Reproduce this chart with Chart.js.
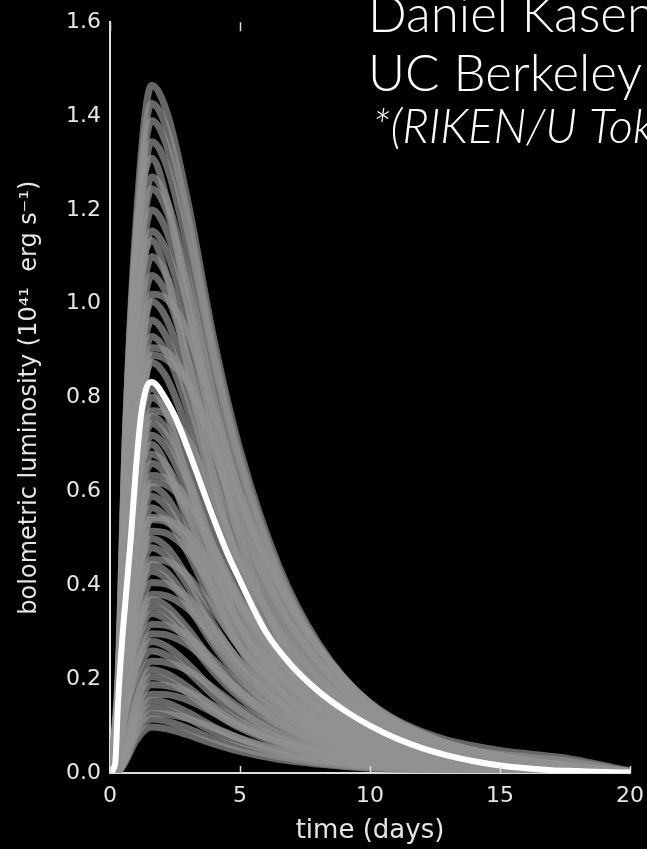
<!DOCTYPE html>
<html>
<head>
<meta charset="utf-8">
<script src="https://cdn.jsdelivr.net/npm/chart.js@4.4.1/dist/chart.umd.min.js"></script>
<style>
  html, body { margin: 0; padding: 0; background: #000; overflow: hidden; }
  canvas { display: block; }
</style>
</head>
<body>
<canvas id="lightCurves" width="647" height="849"></canvas>
<script>
// time grid shared by the grey model runs (days)
const days = [0, 0.3, 0.6, 1.0, 1.6, 2.2, 3, 4, 5, 6.5, 8, 10, 12.5, 15, 17.5, 20];

// grey model light curves, 10^41 erg/s, one row per run
const grayRuns = [
  [0, 0.176, 0.733, 1.172, 1.465, 1.406, 1.216, 0.923, 0.689, 0.440, 0.278, 0.147, 0.073, 0.037, 0.018, 0.003],
  [0, 0.171, 0.714, 1.142, 1.427, 1.370, 1.184, 0.899, 0.671, 0.428, 0.271, 0.143, 0.071, 0.036, 0.017, 0.003],
  [0, 0.167, 0.695, 1.112, 1.390, 1.334, 1.154, 0.876, 0.653, 0.417, 0.264, 0.139, 0.070, 0.035, 0.017, 0.003],
  [0, 0.161, 0.673, 1.076, 1.345, 1.291, 1.116, 0.847, 0.632, 0.404, 0.256, 0.135, 0.067, 0.034, 0.016, 0.003],
  [0, 0.197, 0.734, 1.127, 1.310, 1.218, 0.996, 0.721, 0.498, 0.288, 0.170, 0.079, 0.033, 0.013, 0.005, 0],
  [0, 0.152, 0.635, 1.016, 1.270, 1.219, 1.054, 0.800, 0.597, 0.381, 0.241, 0.127, 0.064, 0.032, 0.015, 0.003],
  [0, 0.149, 0.623, 0.996, 1.245, 1.195, 1.033, 0.784, 0.585, 0.374, 0.237, 0.125, 0.062, 0.031, 0.015, 0.002],
  [0, 0.144, 0.600, 0.960, 1.200, 1.152, 0.996, 0.756, 0.564, 0.360, 0.228, 0.120, 0.060, 0.030, 0.014, 0.002],
  [0, 0.139, 0.578, 0.924, 1.155, 1.109, 0.959, 0.728, 0.543, 0.347, 0.219, 0.116, 0.058, 0.029, 0.014, 0.002],
  [0, 0.170, 0.636, 0.976, 1.135, 1.056, 0.863, 0.624, 0.431, 0.250, 0.148, 0.068, 0.028, 0.011, 0.005, 0],
  [0, 0.132, 0.550, 0.880, 1.100, 1.056, 0.913, 0.693, 0.517, 0.330, 0.209, 0.110, 0.055, 0.028, 0.013, 0.002],
  [0, 0.127, 0.530, 0.848, 1.060, 1.018, 0.880, 0.668, 0.498, 0.318, 0.201, 0.106, 0.053, 0.027, 0.013, 0.002],
  [0, 0.103, 0.464, 0.773, 1.020, 1.009, 0.937, 0.773, 0.597, 0.402, 0.268, 0.149, 0.072, 0.036, 0.016, 0.003],
  [0, 0.121, 0.503, 0.804, 1.005, 0.965, 0.834, 0.633, 0.472, 0.302, 0.191, 0.101, 0.050, 0.025, 0.012, 0.002],
  [0, 0.116, 0.483, 0.772, 0.965, 0.926, 0.801, 0.608, 0.454, 0.290, 0.183, 0.097, 0.048, 0.024, 0.012, 0.002],
  [0, 0.112, 0.465, 0.744, 0.930, 0.893, 0.772, 0.586, 0.437, 0.279, 0.177, 0.093, 0.047, 0.023, 0.011, 0.002],
  [0, 0.092, 0.412, 0.686, 0.906, 0.897, 0.833, 0.686, 0.531, 0.357, 0.238, 0.133, 0.064, 0.032, 0.015, 0.003],
  [0, 0.080, 0.380, 0.640, 0.890, 0.880, 0.830, 0.710, 0.575, 0.400, 0.270, 0.150, 0.078, 0.048, 0.032, 0.004],
  [0, 0.105, 0.438, 0.700, 0.875, 0.840, 0.726, 0.551, 0.411, 0.263, 0.166, 0.088, 0.044, 0.022, 0.011, 0.002],
  [0, 0.123, 0.459, 0.705, 0.820, 0.763, 0.623, 0.451, 0.312, 0.180, 0.107, 0.049, 0.021, 0.008, 0.003, 0],
  [0, 0.096, 0.400, 0.640, 0.800, 0.768, 0.664, 0.504, 0.376, 0.240, 0.152, 0.080, 0.040, 0.020, 0.010, 0.002],
  [0, 0.078, 0.351, 0.585, 0.772, 0.764, 0.710, 0.585, 0.452, 0.304, 0.203, 0.113, 0.055, 0.027, 0.012, 0.002],
  [0, 0.091, 0.380, 0.608, 0.760, 0.730, 0.631, 0.479, 0.357, 0.228, 0.144, 0.076, 0.038, 0.019, 0.009, 0.002],
  [0, 0.089, 0.373, 0.596, 0.745, 0.715, 0.618, 0.469, 0.350, 0.224, 0.142, 0.075, 0.037, 0.019, 0.009, 0.001],
  [0, 0.086, 0.360, 0.576, 0.720, 0.691, 0.598, 0.454, 0.338, 0.216, 0.137, 0.072, 0.036, 0.018, 0.009, 0.001],
  [0, 0.105, 0.392, 0.602, 0.700, 0.651, 0.532, 0.385, 0.266, 0.154, 0.091, 0.042, 0.018, 0.007, 0.003, 0],
  [0, 0.082, 0.340, 0.544, 0.680, 0.653, 0.564, 0.428, 0.320, 0.204, 0.129, 0.068, 0.034, 0.017, 0.008, 0.001],
  [0, 0.079, 0.330, 0.528, 0.660, 0.634, 0.548, 0.416, 0.310, 0.198, 0.125, 0.066, 0.033, 0.017, 0.008, 0.001],
  [0, 0.064, 0.288, 0.480, 0.634, 0.627, 0.582, 0.480, 0.371, 0.250, 0.166, 0.093, 0.045, 0.022, 0.010, 0.002],
  [0, 0.063, 0.281, 0.469, 0.619, 0.613, 0.569, 0.469, 0.363, 0.244, 0.163, 0.091, 0.044, 0.022, 0.010, 0.002],
  [0, 0.073, 0.305, 0.488, 0.610, 0.586, 0.506, 0.384, 0.287, 0.183, 0.116, 0.061, 0.031, 0.015, 0.007, 0.001],
  [0, 0.071, 0.295, 0.472, 0.590, 0.566, 0.490, 0.372, 0.277, 0.177, 0.112, 0.059, 0.030, 0.015, 0.007, 0.001],
  [0, 0.068, 0.283, 0.452, 0.565, 0.542, 0.469, 0.356, 0.266, 0.170, 0.107, 0.057, 0.028, 0.014, 0.007, 0.001],
  [0, 0.050, 0.230, 0.390, 0.545, 0.540, 0.510, 0.435, 0.358, 0.260, 0.180, 0.110, 0.062, 0.040, 0.026, 0.003],
  [0, 0.055, 0.245, 0.409, 0.540, 0.534, 0.496, 0.409, 0.316, 0.213, 0.142, 0.079, 0.038, 0.019, 0.009, 0.002],
  [0, 0.052, 0.234, 0.390, 0.515, 0.510, 0.473, 0.390, 0.302, 0.203, 0.135, 0.075, 0.036, 0.018, 0.008, 0.002],
  [0, 0.060, 0.250, 0.400, 0.500, 0.480, 0.415, 0.315, 0.235, 0.150, 0.095, 0.050, 0.025, 0.013, 0.006, 0.001],
  [0, 0.058, 0.240, 0.384, 0.480, 0.461, 0.398, 0.302, 0.226, 0.144, 0.091, 0.048, 0.024, 0.012, 0.006, 0.001],
  [0, 0.046, 0.207, 0.345, 0.455, 0.451, 0.419, 0.345, 0.267, 0.179, 0.120, 0.067, 0.032, 0.016, 0.007, 0.001],
  [0, 0.053, 0.223, 0.356, 0.445, 0.427, 0.369, 0.280, 0.209, 0.134, 0.085, 0.045, 0.022, 0.011, 0.005, 0.001],
  [0, 0.052, 0.215, 0.344, 0.430, 0.413, 0.357, 0.271, 0.202, 0.129, 0.082, 0.043, 0.022, 0.011, 0.005, 0.001],
  [0, 0.041, 0.185, 0.308, 0.406, 0.402, 0.373, 0.308, 0.238, 0.160, 0.107, 0.059, 0.029, 0.014, 0.007, 0.001],
  [0, 0.039, 0.173, 0.289, 0.381, 0.377, 0.350, 0.289, 0.223, 0.150, 0.100, 0.056, 0.027, 0.013, 0.006, 0.001],
  [0, 0.044, 0.185, 0.296, 0.370, 0.355, 0.307, 0.233, 0.174, 0.111, 0.070, 0.037, 0.019, 0.009, 0.004, 0.001],
  [0, 0.043, 0.178, 0.284, 0.355, 0.341, 0.295, 0.224, 0.167, 0.107, 0.067, 0.036, 0.018, 0.009, 0.004, 0.001],
  [0, 0.041, 0.170, 0.272, 0.340, 0.326, 0.282, 0.214, 0.160, 0.102, 0.065, 0.034, 0.017, 0.009, 0.004, 0.001],
  [0, 0.032, 0.144, 0.240, 0.317, 0.314, 0.291, 0.240, 0.186, 0.125, 0.083, 0.046, 0.022, 0.011, 0.005, 0.001],
  [0, 0.030, 0.135, 0.225, 0.297, 0.294, 0.273, 0.225, 0.174, 0.117, 0.078, 0.044, 0.021, 0.011, 0.005, 0.001],
  [0, 0.034, 0.140, 0.224, 0.280, 0.269, 0.232, 0.176, 0.132, 0.084, 0.053, 0.028, 0.014, 0.007, 0.003, 0],
  [0, 0.031, 0.130, 0.208, 0.260, 0.250, 0.216, 0.164, 0.122, 0.078, 0.049, 0.026, 0.013, 0.007, 0.003, 0.001],
  [0, 0.024, 0.108, 0.180, 0.238, 0.235, 0.219, 0.180, 0.139, 0.094, 0.062, 0.035, 0.017, 0.008, 0.004, 0.001],
  [0, 0.004, 0.055, 0.154, 0.220, 0.211, 0.183, 0.139, 0.103, 0.066, 0.042, 0.022, 0.011, 0.006, 0.003, 0],
  [0, 0.004, 0.051, 0.144, 0.205, 0.197, 0.170, 0.129, 0.096, 0.062, 0.039, 0.021, 0.010, 0.005, 0.002, 0],
  [0, 0.004, 0.048, 0.133, 0.188, 0.186, 0.173, 0.143, 0.110, 0.074, 0.049, 0.028, 0.013, 0.007, 0.003, 0],
  [0, 0.003, 0.043, 0.119, 0.168, 0.167, 0.155, 0.128, 0.099, 0.066, 0.044, 0.025, 0.012, 0.006, 0.003, 0],
  [0, 0.003, 0.039, 0.109, 0.155, 0.149, 0.129, 0.098, 0.073, 0.047, 0.029, 0.016, 0.008, 0.004, 0.002, 0],
  [0, 0.003, 0.035, 0.098, 0.140, 0.134, 0.116, 0.088, 0.066, 0.042, 0.027, 0.014, 0.007, 0.004, 0.002, 0],
  [0, 0.003, 0.032, 0.090, 0.127, 0.125, 0.116, 0.096, 0.074, 0.050, 0.033, 0.019, 0.009, 0.004, 0.002, 0],
  [0, 0.002, 0.029, 0.081, 0.115, 0.110, 0.095, 0.072, 0.054, 0.035, 0.022, 0.012, 0.006, 0.003, 0.001, 0],
  [0, 0.002, 0.025, 0.069, 0.098, 0.094, 0.081, 0.062, 0.046, 0.029, 0.019, 0.010, 0.005, 0.002, 0.001, 0]
];

// highlighted (white) run
const whiteDays = [0, 0.2, 0.3, 0.45, 0.6, 0.8, 1.0, 1.2, 1.4, 1.6, 1.8, 2.0, 2.5, 3.0, 3.5, 4.0, 4.5, 5.0, 5.5, 6.0, 7.0, 8.0, 9.0, 10, 11, 12, 13, 14, 15, 16, 17, 18, 19, 20];
const whiteLum = [0, 0.02, 0.14, 0.27, 0.37, 0.50, 0.65, 0.765, 0.82, 0.833, 0.826, 0.81, 0.76, 0.69, 0.615, 0.54, 0.47, 0.41, 0.352, 0.30, 0.228, 0.175, 0.134, 0.101, 0.074, 0.053, 0.037, 0.025, 0.016, 0.010, 0.006, 0.004, 0.002, 0.001];

const xTicks = [0, 5, 10, 15, 20];
const yTicks = [0, 0.2, 0.4, 0.6, 0.8, 1.0, 1.2, 1.4, 1.6];
const credits = ['Daniel Kasen', 'UC Berkeley', '*(RIKEN/U Tokyo)'];

Chart.defaults.font.family = "'DejaVu Sans', sans-serif";
Chart.defaults.color = '#e6e6e6';

const axisColor = '#dcdcdc';

// grey runs first in the list, white one drawn on top via order
const datasets = grayRuns.map(run => ({
  data: days.map((d, i) => ({ x: d, y: run[i] })),
  borderColor: 'rgba(145,145,145,0.7)',
  borderWidth: 7,
  pointRadius: 0,
  cubicInterpolationMode: 'monotone',
  order: 1
}));
datasets.push({
  data: whiteDays.map((d, i) => ({ x: d, y: whiteLum[i] })),
  borderColor: '#ffffff',
  borderWidth: 6,
  pointRadius: 0,
  cubicInterpolationMode: 'monotone',
  order: 0
});

// matplotlib style inward ticks on the bottom (and top) edge
const inwardTicks = {
  id: 'inwardTicks',
  afterDatasetsDraw(chart) {
    const { ctx, chartArea, scales } = chart;
    ctx.save();
    ctx.strokeStyle = axisColor;
    ctx.lineWidth = 1.5;
    xTicks.forEach(v => {
      const px = Math.round(scales.x.getPixelForValue(v)) + 0.5;
      ctx.beginPath();
      ctx.moveTo(px, chartArea.bottom);
      ctx.lineTo(px, chartArea.bottom - 7);
      ctx.moveTo(px, chartArea.top);
      ctx.lineTo(px, chartArea.top + 9);
      ctx.stroke();
    });
    ctx.restore();
  }
};

// slide credit text in the top right corner
const creditText = {
  id: 'creditText',
  afterDraw(chart) {
    const ctx = chart.ctx;
    ctx.save();
    ctx.fillStyle = '#000';
    ctx.fillRect(340, 0, 307, 158);
    ctx.fillStyle = '#ffffff';
    ctx.textBaseline = 'alphabetic';
    ctx.font = "300 51px 'Lato', 'Roboto', sans-serif";
    ctx.fillText(credits[0], 368, 32);
    ctx.fillText(credits[1], 368, 91);
    ctx.font = "italic 300 47px 'Lato', 'Roboto', sans-serif";
    ctx.fillText(credits[2], 372, 143);
    ctx.restore();
  }
};

new Chart(document.getElementById('lightCurves'), {
  type: 'line',
  data: { datasets },
  options: {
    responsive: false,
    animation: false,
    devicePixelRatio: 1,
    layout: { padding: { top: 22, right: 0, left: 0, bottom: 0 } },
    plugins: { legend: { display: false }, tooltip: { enabled: false } },
    scales: {
      x: {
        type: 'linear',
        min: 0,
        max: 20,
        afterBuildTicks: s => { s.ticks = xTicks.map(v => ({ value: v })); },
        afterFit: s => { s.height = 76; s.paddingRight = 17; s.paddingLeft = 0; },
        grid: { display: false, drawTicks: false },
        border: { display: true, color: axisColor, width: 2 },
        ticks: { padding: 10, font: { size: 22 }, color: '#e6e6e6' },
        title: {
          display: true,
          text: 'time (days)',
          color: '#e6e6e6',
          font: { size: 26 },
          padding: { top: 0, bottom: 2 }
        }
      },
      y: {
        type: 'linear',
        min: 0,
        max: 1.6,
        afterBuildTicks: s => { s.ticks = yTicks.map(v => ({ value: v })); },
        afterFit: s => { s.width = 110; },
        grid: { display: false, drawTicks: false },
        border: { display: true, color: axisColor, width: 2 },
        ticks: {
          padding: 9,
          font: { size: 22 },
          color: '#e6e6e6',
          callback: v => Number(v).toFixed(1)
        },
        title: {
          display: true,
          text: 'bolometric luminosity (10⁴¹  erg s⁻¹)',
          color: '#e6e6e6',
          font: { size: 24 },
          padding: { top: 15, bottom: 0 }
        }
      }
    }
  },
  plugins: [inwardTicks, creditText]
});
</script>
</body>
</html>
